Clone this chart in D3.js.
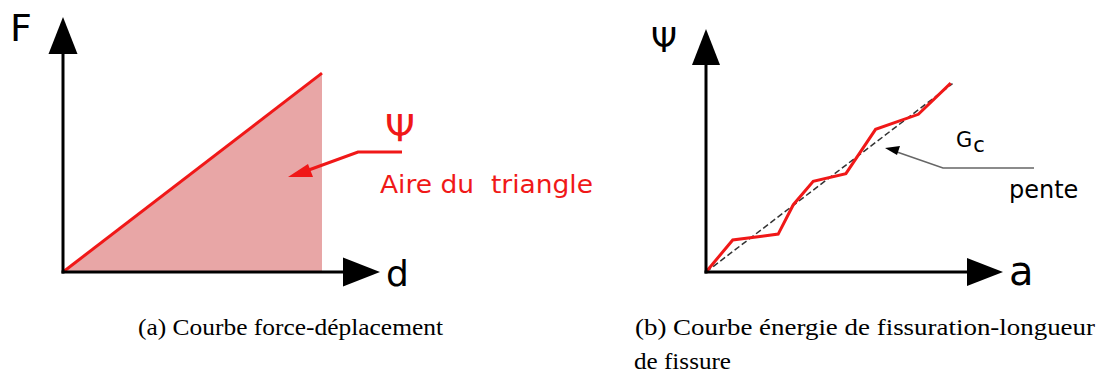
<!DOCTYPE html>
<html lang="fr">
<head>
<meta charset="UTF-8">
<title>Force-déplacement / énergie de fissuration</title>
<script src="https://cdn.jsdelivr.net/npm/d3@7"></script>
<style>
  body { margin: 0; background: #fff; }
  svg { display: block; }
</style>
</head>
<body>
<svg width="1103" height="378"></svg>
<script>
// panneau (a) : courbe force-déplacement, unités arbitraires (axe = 0..10)
var forceD = [0, 8.17];
var forceF = [0, 7.8];

// panneau (b) : énergie de fissuration vs longueur de fissure
var crackA = [0, 0.9, 2.43, 2.94, 3.61, 4.71, 5.71, 7.15, 8.24];
var crackPsi = [0, 1.32, 1.56, 2.77, 3.73, 4.05, 5.87, 6.49, 7.77];
var slopeA = [0, 8.3];
var slopePsi = [0, 7.75];

var captionA = "(a) Courbe force-déplacement";
var captionB = ["(b) Courbe énergie de fissuration-longueur", "de fissure"];

var svg = d3.select("svg");
var red = "#f01818";
var sans = "DejaVu Sans, sans-serif";

// échelles
var xA = d3.scaleLinear().domain([0, 10]).range([63, 380]);
var yA = d3.scaleLinear().domain([0, 10]).range([272, 17]);
var xB = d3.scaleLinear().domain([0, 10]).range([706, 1003]);
var yB = d3.scaleLinear().domain([0, 10]).range([272, 29]);

// axes fléchés
function drawAxes(g, x, y, headLen, headHalf) {
    var x0 = x(0), y0 = y(0), xt = x(10), yt = y(10);
    g.append("line").attr("x1", x0).attr("y1", y0 + 1.5).attr("x2", x0).attr("y2", yt + headLen)
        .attr("stroke", "#000").attr("stroke-width", 3);
    g.append("line").attr("x1", x0 - 1.5).attr("y1", y0).attr("x2", xt - headLen).attr("y2", y0)
        .attr("stroke", "#000").attr("stroke-width", 3);
    g.append("path")
        .attr("d", "M" + x0 + "," + yt + "L" + (x0 - headHalf) + "," + (yt + headLen) + "L" + (x0 + headHalf) + "," + (yt + headLen) + "Z")
        .attr("fill", "#000");
    g.append("path")
        .attr("d", "M" + xt + "," + y0 + "L" + (xt - headLen) + "," + (y0 - headHalf) + "L" + (xt - headLen) + "," + (y0 + headHalf) + "Z")
        .attr("fill", "#000");
}

// ---- panneau (a)
var gA = svg.append("g");
var triPts = [[forceD[0], forceF[0]], [forceD[1], forceF[1]], [forceD[1], 0]];
gA.append("path")
    .attr("d", d3.line().x(function (d) { return xA(d[0]); }).y(function (d) { return yA(d[1]); })(triPts) + "Z")
    .attr("fill", "#e8a6a6");
gA.append("path")
    .attr("d", d3.line().x(function (d, i) { return xA(forceD[i]); }).y(function (d) { return yA(d); })(forceF))
    .attr("fill", "none").attr("stroke", red).attr("stroke-width", 3);
drawAxes(gA, xA, yA, 37, 14.5);

gA.append("text").attr("x", 10).attr("y", 41).text("F")
    .attr("font-family", sans).attr("font-size", 38);
gA.append("text").attr("x", 386).attr("y", 286).text("d")
    .attr("font-family", sans).attr("font-size", 36);

// flèche rouge d'annotation
gA.append("path")
    .attr("d", "M402,152L358,152L306,171")
    .attr("fill", "none").attr("stroke", red).attr("stroke-width", 3);
gA.append("path")
    .attr("d", "M288,177L308,164L313,177Z")
    .attr("fill", red);
gA.append("text").attr("x", 385).attr("y", 141).text("Ψ")
    .attr("font-family", sans).attr("font-size", 38).attr("fill", red);
gA.append("text").attr("x", 380).attr("y", 193).text("Aire du\u00a0 triangle")
    .attr("font-family", sans).attr("font-size", 24).attr("fill", red)
    .attr("textLength", 213).attr("lengthAdjust", "spacingAndGlyphs");

// ---- panneau (b)
var gB = svg.append("g");
gB.append("path")
    .attr("d", d3.line().x(function (d, i) { return xB(slopeA[i]); }).y(function (d) { return yB(d); })(slopePsi))
    .attr("fill", "none").attr("stroke", "#333").attr("stroke-width", 1.5).attr("stroke-dasharray", "6,3");
gB.append("path")
    .attr("d", d3.line().x(function (d, i) { return xB(crackA[i]); }).y(function (d) { return yB(d); })(crackPsi))
    .attr("fill", "none").attr("stroke", red).attr("stroke-width", 3).attr("stroke-linejoin", "miter");
drawAxes(gB, xB, yB, 36, 14);

gB.append("text").attr("x", 651).attr("y", 52).text("Ψ")
    .attr("font-family", sans).attr("font-size", 33);
gB.append("text").attr("x", 1009).attr("y", 285).text("a")
    .attr("font-family", sans).attr("font-size", 40);

// flèche noire "pente"
gB.append("path")
    .attr("d", "M1034,168L943,168L897,152")
    .attr("fill", "none").attr("stroke", "#666").attr("stroke-width", 1.5);
gB.append("path")
    .attr("d", "M885,148L900,146L897,155Z")
    .attr("fill", "#000");
var gc = gB.append("text").attr("x", 956).attr("y", 147)
    .attr("font-family", sans).attr("font-size", 21);
gc.append("tspan").text("G");
gc.append("tspan").text("c").attr("dy", 5).attr("dx", 1).attr("font-size", 21);
gB.append("text").attr("x", 1009).attr("y", 198).text("pente")
    .attr("font-family", sans).attr("font-size", 24);

// ---- légendes
var serif = "Liberation Serif, serif";
svg.append("text").attr("x", 138).attr("y", 335).text(captionA)
    .attr("font-family", serif).attr("font-size", 23)
    .attr("textLength", 305).attr("lengthAdjust", "spacingAndGlyphs");
svg.append("text").attr("x", 635).attr("y", 335).text(captionB[0])
    .attr("font-family", serif).attr("font-size", 23)
    .attr("textLength", 460).attr("lengthAdjust", "spacingAndGlyphs");
svg.append("text").attr("x", 634).attr("y", 369).text(captionB[1])
    .attr("font-family", serif).attr("font-size", 23)
    .attr("textLength", 97).attr("lengthAdjust", "spacingAndGlyphs");
</script>
</body>
</html>
